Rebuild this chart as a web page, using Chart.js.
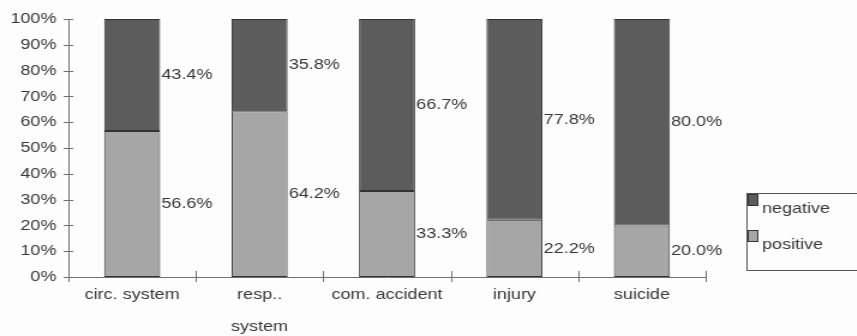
<!DOCTYPE html>
<html>
<head>
<meta charset="utf-8">
<script src="https://cdn.jsdelivr.net/npm/chart.js@4.4.0/dist/chart.umd.min.js"></script>
<style>
  html, body { margin: 0; padding: 0; background: #fdfdfd; overflow: hidden; }
  /* the drawing is rendered narrow and widened, giving the wide lettering */
  #wrap { width: 714px; height: 336px; transform: scaleX(1.2); transform-origin: 0 0; }
  canvas { display: block; }
</style>
</head>
<body>
<div id="wrap"><canvas id="chart" width="714" height="336" style="width:714px;height:336px"></canvas></div>
<script>
// Share of positive / negative results per cause of death (percent)
const categories = [['circ. system'], ['resp..', 'system'], 'com. accident', 'injury', 'suicide'];
const seriesNames = ['positive', 'negative'];
const positive = [56.6, 64.2, 33.3, 22.2, 20.0];
const negative = [43.4, 35.8, 66.7, 77.8, 80.0];
const yTickLabels = ['0%', '10%', '20%', '30%', '40%', '50%', '60%', '70%', '80%', '90%', '100%'];

const FONT = "'Liberation Sans', Arial, sans-serif";
const TEXT = '#383838';
const AXIS = '#707070';
const fills = { positive: '#a6a6a6', negative: '#5c5c5c' };

// Axis lines with tick marks crossing them
const axisTicks = {
  id: 'axisTicks',
  afterDraw(chart) {
    const { ctx, chartArea, scales } = chart;
    const x = scales.x, y = scales.y;
    ctx.save();
    ctx.strokeStyle = AXIS;
    ctx.lineWidth = 1;
    ctx.beginPath();
    ctx.moveTo(chartArea.left + 0.5, chartArea.top);
    ctx.lineTo(chartArea.left + 0.5, chartArea.bottom);
    ctx.moveTo(chartArea.left, chartArea.bottom + 0.5);
    ctx.lineTo(chartArea.right, chartArea.bottom + 0.5);
    y.ticks.forEach(t => {
      const py = Math.round(y.getPixelForValue(t.value)) + 0.5;
      ctx.moveTo(chartArea.left - 4, py);
      ctx.lineTo(chartArea.left + 4, py);
    });
    const n = categories.length;
    const step = (x.right - x.left) / n;
    for (let i = 0; i <= n; i++) {
      const px = Math.round(x.left + i * step) + 0.5;
      ctx.moveTo(px, chartArea.bottom - 6);
      ctx.lineTo(px, chartArea.bottom + 5);
    }
    ctx.stroke();
    ctx.restore();
  }
};

// Percent labels to the right of each bar segment
const segmentLabels = {
  id: 'segmentLabels',
  afterDatasetsDraw(chart) {
    const { ctx } = chart;
    ctx.save();
    ctx.font = '15px ' + FONT;
    ctx.fillStyle = TEXT;
    ctx.textAlign = 'left';
    ctx.textBaseline = 'middle';
    chart.data.datasets.forEach((ds, di) => {
      chart.getDatasetMeta(di).data.forEach((bar, i) => {
        const p = bar.getProps(['x', 'y', 'base', 'width'], true);
        ctx.fillText(ds.data[i].toFixed(1) + '%', p.x + p.width / 2 + 1, (p.y + p.base) / 2);
      });
    });
    ctx.restore();
  }
};

// Boxed legend at the right, top series first
const boxLegend = {
  id: 'boxLegend',
  afterDraw(chart) {
    const { ctx, chartArea } = chart;
    const left = chartArea.right + 34;
    const top = 193, bottom = 270;
    ctx.save();
    ctx.strokeStyle = '#555';
    ctx.lineWidth = 1;
    ctx.strokeRect(left + 0.5, top + 0.5, chart.width, bottom - top);
    ctx.font = '15px ' + FONT;
    ctx.textAlign = 'left';
    ctx.textBaseline = 'middle';
    const items = chart.data.datasets.slice().reverse();
    items.forEach((ds, k) => {
      const sy = top + 1 + k * 36;
      ctx.fillStyle = ds.backgroundColor;
      ctx.fillRect(left + 1, sy, 9, 12);
      ctx.strokeStyle = '#333';
      ctx.strokeRect(left + 1.5, sy + 0.5, 8, 11);
      ctx.fillStyle = TEXT;
      ctx.fillText(ds.label, left + 13, sy + 15);
    });
    ctx.restore();
  }
};

new Chart(document.getElementById('chart'), {
  type: 'bar',
  data: {
    labels: categories,
    datasets: [
      { label: seriesNames[0], data: positive, backgroundColor: fills.positive },
      { label: seriesNames[1], data: negative, backgroundColor: fills.negative }
    ]
  },
  options: {
    responsive: false,
    animation: false,
    devicePixelRatio: 1,
    layout: { padding: { top: 15, right: 126, bottom: 0, left: 0 } },
    datasets: {
      bar: {
        borderColor: '#333333',
        borderWidth: 1,
        borderSkipped: false,
        categoryPercentage: 1,
        barPercentage: 0.44
      }
    },
    plugins: { legend: { display: false }, tooltip: { enabled: false } },
    scales: {
      x: {
        stacked: true,
        offset: true,
        grid: { display: false, drawTicks: false },
        border: { display: false },
        ticks: {
          color: TEXT,
          font: { family: FONT, size: 15, lineHeight: 2.13 },
          padding: 2,
          maxRotation: 0,
          autoSkip: false
        },
        afterFit(scale) { scale.height = 59; }
      },
      y: {
        stacked: true,
        min: 0,
        max: 100,
        grid: { display: false, drawTicks: false },
        border: { display: false },
        ticks: {
          stepSize: 10,
          color: TEXT,
          font: { family: FONT, size: 15 },
          padding: 10,
          callback: (v) => yTickLabels[Math.round(v / 10)]
        },
        afterFit(scale) { scale.width = 57; }
      }
    }
  },
  plugins: [axisTicks, segmentLabels, boxLegend]
});
</script>
</body>
</html>
